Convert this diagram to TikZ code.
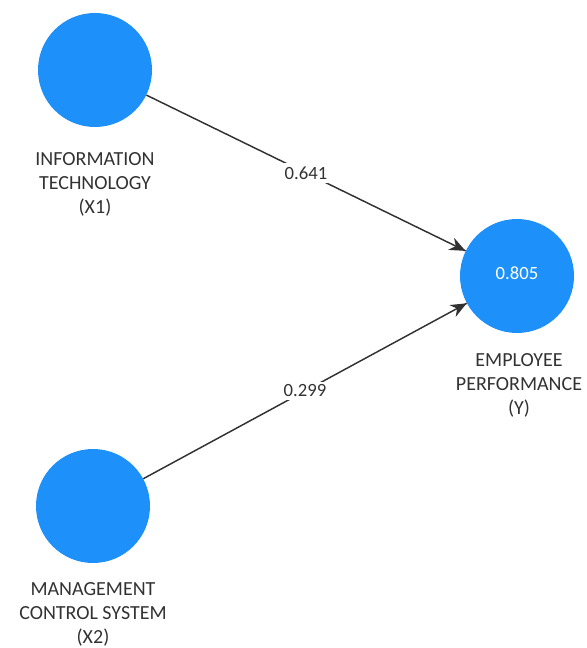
\documentclass[tikz,border=0pt]{standalone}
\usepackage{fontspec}
\setmainfont{Carlito}
\usepackage{tikz}
\usetikzlibrary{calc}
\usetikzlibrary{arrows.meta}
\usetikzlibrary{decorations.markings}
\usepackage{xcolor}
\definecolor{myBlue}{RGB}{30,144,250}
\definecolor{myGray}{RGB}{50,50,50}
\tikzset{
  construct/.style={circle, fill=myBlue, draw=none, minimum size=85.5pt, inner sep=0pt,
    text=white, font=\fontsize{14}{16}\selectfont},
  caption/.style={anchor=north, align=center, text=myGray, inner sep=0pt,
    font=\fontsize{15}{18}\selectfont},
  path/.style={line width=1.1pt, myGray, postaction={decorate, decoration={
    markings,
    mark=at position 1 with {\arrow{Stealth[length=12pt,width=10pt]}}}}},
  coef/.style={fill=white, inner sep=2.5pt, text=myGray, font=\fontsize{14}{16}\selectfont},
}

\begin{document}
\begin{tikzpicture}[x=0.75pt,y=-0.75pt]

%%%%%%%%%%%%%%%%%%%%%%%%%%%%%%%%%%%%%%%%%%%%%%%%%%%%%%%%%%%%%% Setup
\coordinate (C) at (0, 0);
% just to have nice boundaries to the picture
\useasboundingbox ($(C)$) rectangle ($(C)+(586,648)$);


%%%%%%%%%%%%%%%%%%%%%%%%%%%%%%%%%%%%%%%%%%%%%%%%%%%%%%%%%%%%%% Constructs

\node[construct] (IT) at ($(C)+(95,70)$) {};
\node[caption] (ITlab) at ($(C)+(95,152)$) {INFORMATION\\TECHNOLOGY\\(X1)};

\node[construct] (MCS) at ($(C)+(93,506)$) {};
\node[caption] (MCSlab) at ($(C)+(93,582)$) {MANAGEMENT\\CONTROL SYSTEM\\(X2)};

\node[construct] (EP) at ($(C)+(517,276)$) {\raisebox{4pt}{0.805}};
\node[caption] (EPlab) at ($(C)+(519,353)$) {EMPLOYEE\\PERFORMANCE\\(Y)};


%%%%%%%%%%%%%%%%%%%%%%%%%%%%%%%%%%%%%%%%%%%%%%%%%%%%%%%%%%%%%% Paths

\draw[path] (IT) -- node[coef] {0.641} (EP);
\draw[path] (MCS) -- node[coef] {0.299} (EP);

\end{tikzpicture}
\end{document}
